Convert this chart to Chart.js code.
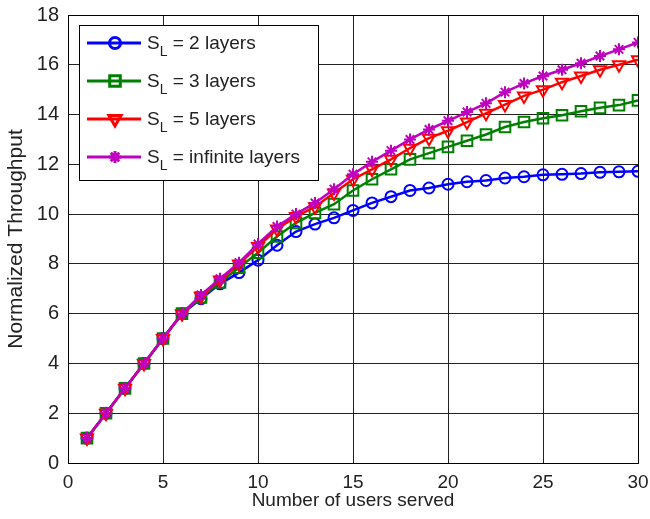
<!DOCTYPE html>
<html>
<head>
<meta charset="utf-8">
<script src="https://cdn.jsdelivr.net/npm/chart.js@4/dist/chart.umd.min.js"></script>
<style>
  html, body { margin: 0; padding: 0; background: #fff; }
  #wrap { width: 650px; height: 519px; }
</style>
</head>
<body>
<div id="wrap"><canvas id="throughputChart" width="650" height="519"></canvas></div>
<script>
// users served
const users = [1,2,3,4,5,6,7,8,9,10,11,12,13,14,15,16,17,18,19,20,21,22,23,24,25,26,27,28,29,30];

// normalized throughput per layer count
const layers2 = [1,2,3,4,5,6,6.6,7.2,7.65,8.15,8.75,9.3,9.6,9.85,10.15,10.45,10.7,10.95,11.05,11.2,11.3,11.35,11.45,11.5,11.58,11.6,11.63,11.68,11.7,11.72];
const layers3 = [1,2,3,4,5,6,6.65,7.25,7.85,8.45,9.1,9.65,10.05,10.4,10.95,11.4,11.8,12.2,12.45,12.7,12.95,13.2,13.5,13.7,13.85,13.97,14.13,14.27,14.38,14.57];
const layers5 = [1,2,3,4,5,6,6.7,7.35,8.0,8.7,9.4,9.9,10.3,10.85,11.4,11.8,12.2,12.65,13.05,13.35,13.7,14.05,14.4,14.75,15.0,15.3,15.55,15.8,16.0,16.2];
const layersInf = [1,2,3,4,5,6,6.75,7.4,8.05,8.8,9.5,10.0,10.45,11.0,11.6,12.1,12.55,13.0,13.4,13.75,14.1,14.45,14.9,15.25,15.55,15.8,16.06,16.35,16.62,16.9];

const legendNames = ['2 layers', '3 layers', '5 layers', 'infinite layers'];
const xTicks = [0,5,10,15,20,25,30];
const yTicks = [0,2,4,6,8,10,12,14,16,18];

const FONT = '"Liberation Sans", Arial, sans-serif';
const TEXT = '#222';

function series(label, data, color, style, radius, rotation, order){
    return {
        label: label,
        data: data,
        borderColor: color,
        backgroundColor: color,
        borderWidth: 2.5,
        pointStyle: style,
        pointRadius: radius,
        pointHoverRadius: radius,
        pointRotation: rotation,
        pointBorderWidth: 2,
        pointBorderColor: color,
        pointBackgroundColor: 'rgba(0,0,0,0)',
        tension: 0,
        fill: false,
        order: order
    };
}

// box round the plot and the MATLAB style legend with S_L subscript
const frameLegend = {
    id: 'frameLegend',
    afterDraw(chart){
        const ctx = chart.ctx;
        const a = chart.chartArea;
        ctx.save();
        ctx.strokeStyle = '#000';
        ctx.lineWidth = 1;
        ctx.strokeRect(Math.round(a.left) + 0.5, Math.round(a.top) + 0.5, Math.round(a.right - a.left), Math.round(a.bottom - a.top));

        const bx = 79.5, by = 25.5, bw = 239, bh = 155;
        ctx.fillStyle = '#fff';
        ctx.fillRect(bx, by, bw, bh);
        ctx.strokeRect(bx, by, bw, bh);

        chart.data.datasets.forEach(function(ds, i){
            const y = 43 + i * 38;
            ctx.strokeStyle = ds.borderColor;
            ctx.lineWidth = 3;
            ctx.beginPath();
            ctx.moveTo(87, y);
            ctx.lineTo(141, y);
            ctx.stroke();
            ctx.fillStyle = 'rgba(0,0,0,0)';
            Chart.helpers.drawPoint(ctx, {
                pointStyle: ds.pointStyle,
                rotation: ds.pointRotation,
                radius: ds.pointRadius,
                borderWidth: 2
            }, 115, y);

            ctx.fillStyle = TEXT;
            ctx.textBaseline = 'alphabetic';
            ctx.textAlign = 'left';
            ctx.font = '19px ' + FONT;
            let x = 147;
            ctx.fillText('S', x, y + 6);
            x += ctx.measureText('S').width;
            ctx.font = '14px ' + FONT;
            ctx.fillText('L', x, y + 13);
            x += ctx.measureText('L').width;
            ctx.font = '19px ' + FONT;
            ctx.fillText(' = ' + legendNames[i], x, y + 6);
        });
        ctx.restore();
    }
};

const ctx = document.getElementById('throughputChart').getContext('2d');
new Chart(ctx, {
    type: 'line',
    data: {
        labels: users,
        datasets: [
            series('SL = 2 layers', layers2, '#0000ff', 'circle', 5.5, 0, 4),
            series('SL = 3 layers', layers3, '#008000', 'rect', 7.5, 0, 3),
            series('SL = 5 layers', layers5, '#ff0000', 'triangle', 7, 180, 2),
            series('SL = infinite layers', layersInf, '#bf00bf', 'star', 6, 0, 1)
        ]
    },
    options: {
        responsive: false,
        animation: false,
        layout: { padding: { top: 15, right: 12, left: 0, bottom: 0 } },
        plugins: {
            legend: { display: false },
            tooltip: { enabled: false }
        },
        scales: {
            x: {
                type: 'linear',
                min: 0,
                max: 30,
                afterBuildTicks(scale){
                    scale.ticks = xTicks.map(v => ({ value: v }));
                },
                afterFit(scale){
                    scale.height = 56;
                    scale.paddingLeft = 0;
                    scale.paddingRight = 0;
                },
                grid: { color: '#222', lineWidth: 1, drawTicks: false },
                border: { display: false },
                ticks: {
                    color: TEXT,
                    padding: 8,
                    maxRotation: 0,
                    font: { family: FONT, size: 19 }
                },
                title: {
                    display: true,
                    text: 'Number of users served',
                    color: TEXT,
                    padding: { top: 0, bottom: 7 },
                    font: { family: FONT, size: 19 }
                }
            },
            y: {
                min: 0,
                max: 18,
                afterBuildTicks(scale){
                    scale.ticks = yTicks.map(v => ({ value: v }));
                },
                afterFit(scale){
                    scale.width = 68;
                    scale.paddingTop = 0;
                    scale.paddingBottom = 0;
                },
                grid: { color: '#222', lineWidth: 1, drawTicks: false },
                border: { display: false },
                ticks: {
                    color: TEXT,
                    padding: 9,
                    font: { family: FONT, size: 20 }
                },
                title: {
                    display: true,
                    text: 'Normalized Throughput',
                    color: TEXT,
                    padding: { top: 4, bottom: 0 },
                    font: { family: FONT, size: 21 }
                }
            }
        }
    },
    plugins: [frameLegend]
});
</script>
</body>
</html>
